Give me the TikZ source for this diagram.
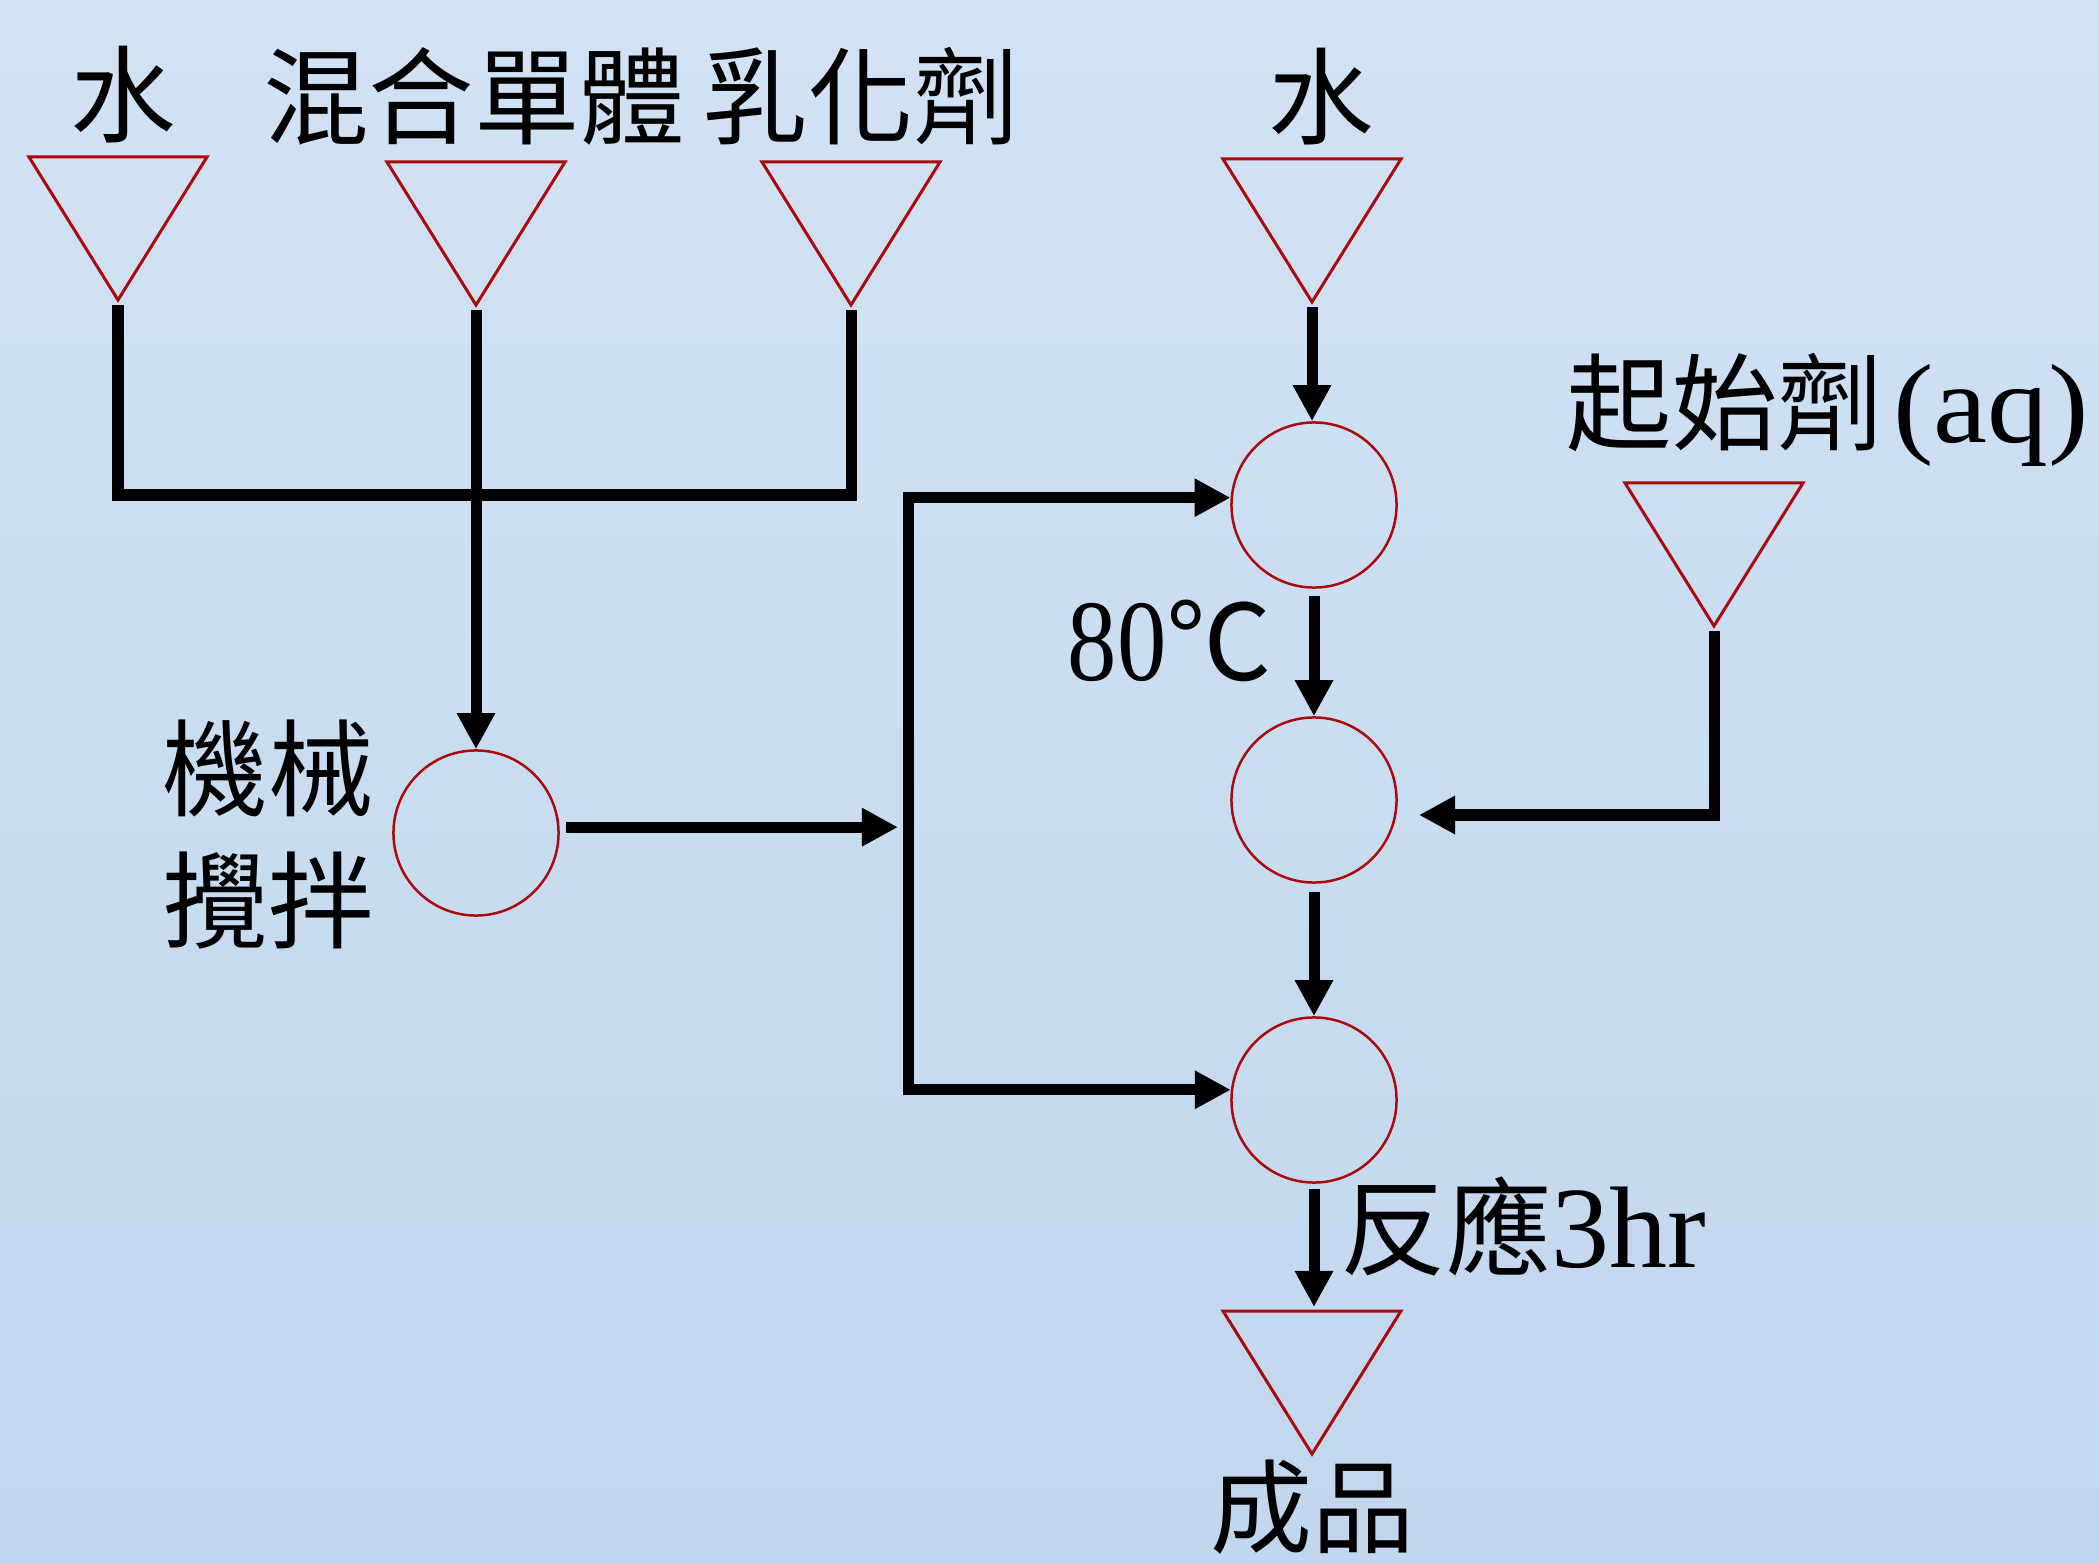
\documentclass[tikz,border=0pt]{standalone}
\usepackage{fontspec}
\setmainfont{Liberation Serif}
\newfontfamily\cjk{Noto Sans CJK TC}
\newfontfamily\lat{Liberation Serif}
\newfontfamily\latn[FakeStretch=0.85]{Liberation Serif}
\newfontfamily\latw[FakeStretch=1.08]{Liberation Serif}
\usetikzlibrary{arrows.meta,calc}
\definecolor{tankred}{RGB}{170,10,10}
\definecolor{bgtop}{RGB}{209,226,243}
\definecolor{bgbot}{RGB}{193,215,238}
\begin{document}
\begin{tikzpicture}[x=0.01cm,y=-0.01cm,
  cjklabel/.style={inner sep=0pt, font=\cjk\fontsize{30}{36}\selectfont},
  mixlabel/.style={inner sep=0pt, anchor=base west, font=\fontsize{30}{36}\selectfont},
  vessel/.style={circle, draw=tankred, line width=0.025cm, minimum size=1.65cm, inner sep=0pt},
  flow/.style={line width=0.11cm, line join=miter},
  arr/.style={flow, -{Triangle[length=0.36cm,width=0.36cm]}},
  tank/.pic={\draw[draw=tankred, line width=0.03cm, line join=miter] (-89,0) -- (89,0) -- (0,143) -- cycle;
     \coordinate (-top) at (0,-4); \coordinate (-out) at (0,148);}
]
\shade[top color=bgtop, bottom color=bgbot] (0,0) rectangle (2099,1564);
\useasboundingbox (0,0) rectangle (2099,1564);

% feed / product tanks
\pic (T1) at (118,157) {tank};
\pic (T2) at (476,162) {tank};
\pic (T3) at (851,162) {tank};
\pic (T4) at (1312,159) {tank};
\pic (T5) at (1714,483) {tank};
\pic (T6) at (1312,1311) {tank};

% vessels
\node[vessel] (Cmix) at (476,833) {};
\node[vessel] (C1) at (1314,505) {};
\node[vessel] (C2) at (1314,800) {};
\node[vessel] (C3) at (1314,1100) {};

% labels
\node[cjklabel] (Lw1) at (123,95) {水};
\node[cjklabel] (Lmono) at (474,96) {混合單體};
\node[cjklabel] (Lemul) at (861,96) {乳化劑};
\node[cjklabel] (Lw2) at (1321,97) {水};
\node[mixlabel] (Linit) at (1566,443) {{\cjk 起始劑}\kern0.1cm{\latw\fontsize{32}{36}\selectfont(aq)}};
\node[mixlabel] (Ltemp) at (1067,681) {{\latn\fontsize{33}{36}\selectfont 80}{\cjk ℃}};
\node[cjklabel, align=center, font=\cjk\fontsize{30}{37.5}\selectfont] (Lstir) at (268,835) {機械\\攪拌};
\node[mixlabel] (Lreact) at (1340,1267) {{\cjk 反應}{\lat\fontsize{33}{36}\selectfont 3hr}};
\node[cjklabel, font=\cjk\fontsize{29}{36}\selectfont] (Lprod) at (1312,1507) {成品};

% connectors
\draw[flow] (T1-out) -- ++(0,190) -| (T3-out);
\draw[arr] (T2-out) -- (T2-out |- Cmix.north);
\coordinate (bar) at (908,824);
\draw[arr, shorten >=0.1cm] ([xshift=0.06cm]Cmix.4) -- (Cmix.4 -| bar);
\draw[arr] (bar) |- (C1.175);
\draw[arr] (bar) |- (C3.173);
\draw[arr] (T4-out) -- (T4-out |- C1.north);
\draw[arr] ([yshift=-0.07cm]C1.south) -- (C2.north);
\draw[arr] ([yshift=-0.08cm]C2.south) -- (C3.north);
\coordinate (c2in) at (1419,815);
\draw[arr] (T5-out) |- (c2in);
\draw[arr] ([yshift=-0.05cm]C3.south) -- (C3.south |- T6-top);
\end{tikzpicture}
\end{document}
